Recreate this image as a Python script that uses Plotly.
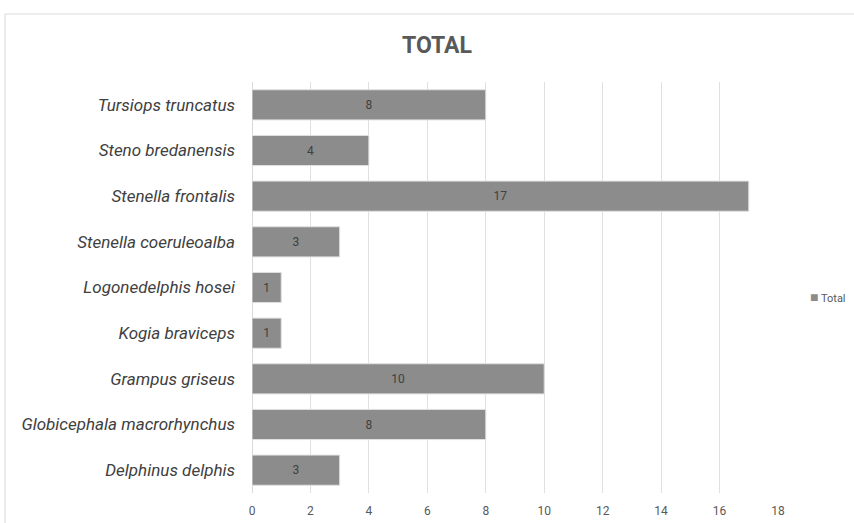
import plotly.graph_objects as go

species = [
    "Delphinus delphis",
    "Globicephala macrorhynchus",
    "Grampus griseus",
    "Kogia braviceps",
    "Logonedelphis hosei",
    "Stenella coeruleoalba",
    "Stenella frontalis",
    "Steno bredanensis",
    "Tursiops truncatus",
]
totals = [3, 8, 10, 1, 1, 3, 17, 4, 8]
tick_vals = [0, 2, 4, 6, 8, 10, 12, 14, 16, 18]

W, H = 854, 523
L, R, T, B = 252, 76, 82, 30
pw, ph = W - L - R, H - T - B

fig = go.Figure()
fig.add_trace(go.Bar(
    y=species,
    x=totals,
    orientation="h",
    name="Total",
    marker=dict(color="#8c8c8c", line=dict(color="#e0e0e0", width=1)),
    text=[str(v) for v in totals],
    textposition="inside",
    insidetextanchor="middle",
    textfont=dict(family="Roboto", size=12, color="#404040"),
    showlegend=False,
))

fig.update_layout(
    width=W, height=H,
    margin=dict(l=L, r=R, t=T, b=B, autoexpand=False),
    paper_bgcolor="white",
    plot_bgcolor="white",
    bargap=0.34,
    title=dict(
        text="<b>TOTAL</b>",
        x=437 / W, xanchor="center",
        y=1 - 45 / H, yanchor="middle",
        font=dict(family="Roboto", size=23, color="#595959"),
    ),
    xaxis=dict(
        range=[0, 18],
        tickvals=tick_vals,
        showgrid=True, gridcolor="#e0e0e0", gridwidth=1,
        zeroline=True, zerolinecolor="#d9d9d9", zerolinewidth=1,
        showline=False,
        tickfont=dict(family="Roboto", size=12, color="#595959"),
        ticks="", ticklabelstandoff=9,
    ),
    yaxis=dict(
        categoryorder="array", categoryarray=species,
        showgrid=False, showline=False, ticks="",
        tickfont=dict(family="Roboto", size=17, color="#404040", style="italic"),
        ticklabelstandoff=16,
    ),
    annotations=[dict(
        text="<span style='font-size:14px;color:#8c8c8c'>■</span> Total",
        xref="paper", yref="paper",
        x=(808 - L) / pw, xanchor="left",
        y=(H - B - 297) / ph, yanchor="middle",
        showarrow=False,
        font=dict(family="Roboto", size=11, color="#595959"),
    )],
    shapes=[dict(
        type="rect", xref="paper", yref="paper",
        x0=(5 - L) / pw, x1=(W + 20 - L) / pw,
        y0=(H - B - (H + 20)) / ph, y1=(H - B - 14) / ph,
        line=dict(color="#d9d9d9", width=1),
        fillcolor="rgba(0,0,0,0)",
        layer="below",
    )],
)

fig.write_html("out.html")
